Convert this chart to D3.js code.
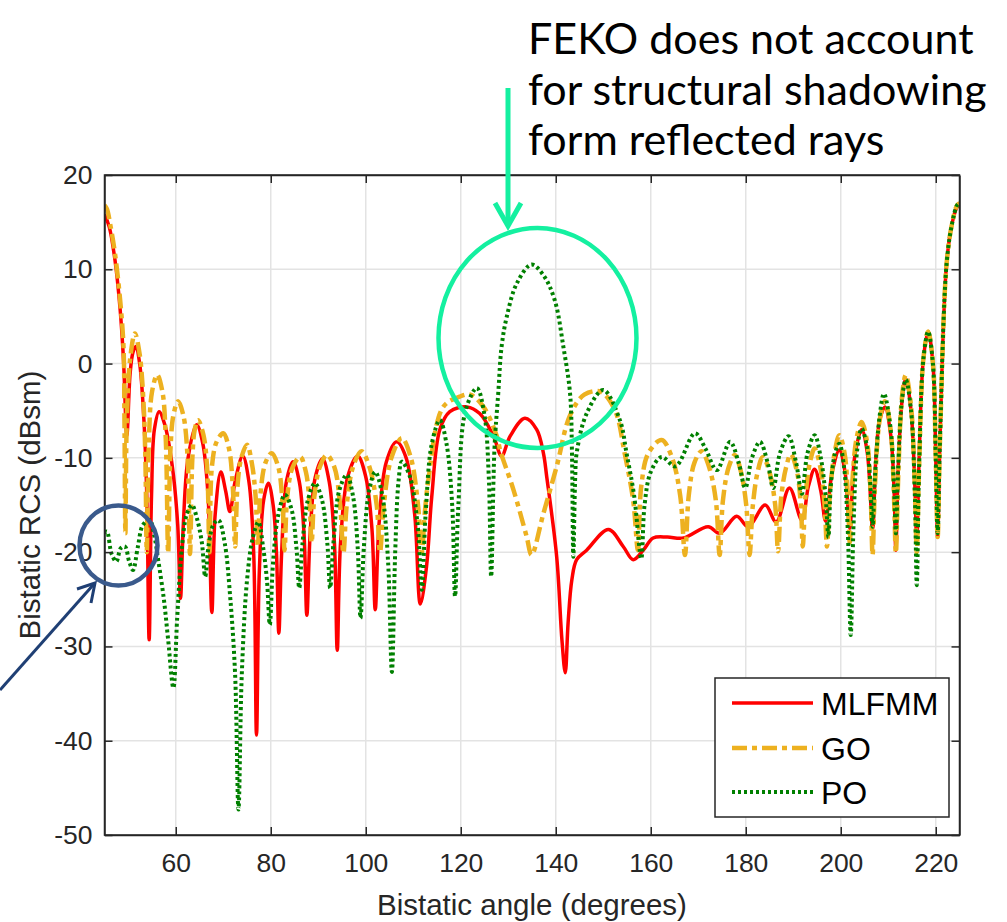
<!DOCTYPE html>
<html><head><meta charset="utf-8">
<script src="https://cdn.jsdelivr.net/npm/d3@7"></script>
<style>html,body{margin:0;padding:0;background:#fff;}svg{display:block;}</style>
</head><body>
<svg id="c" width="1007" height="922"></svg>
<script>
// ---------- data ----------
const seriesNames = ["MLFMM", "GO", "PO"];
const xTicks = [60, 80, 100, 120, 140, 160, 180, 200, 220];
const yTicks = [-50, -40, -30, -20, -10, 0, 10, 20];
const xLabel = "Bistatic angle (degrees)";
const yLabel = "Bistatic RCS (dBsm)";
const noteLines = ["FEKO does not account", "for structural shadowing", "form reflected rays"];

const mlfmm = [
[45.0,15.8],[46.0,14.5],[47.2,11.0],[48.3,5.7],[49.0,0.4],[49.7,-7.6],[50.4,-1.0],[51.0,1.2],[51.6,1.8],[52.4,0.0],[53.3,-6.0],[53.9,-14],[54.4,-29.3],[54.9,-14],[55.5,-7.0],[56.5,-5.1],[57.7,-6.5],[59.3,-11],[60.4,-17],[61.0,-24.9],[61.6,-17],[62.6,-10],[64.4,-6.5],[65.7,-8.5],[66.8,-14],[67.6,-26.4],[68.3,-16],[69.5,-11.5],[70.5,-13.5],[71.4,-15.7],[72.5,-12.5],[74.1,-9.8],[75.4,-12.5],[76.4,-20],[77.0,-39.4],[77.6,-22],[78.5,-14.5],[79.5,-12.7],[80.5,-15],[81.2,-20],[81.7,-28.6],[82.3,-20],[83.3,-12.5],[84.7,-10.4],[86.0,-12.5],[87.0,-18],[87.6,-26.7],[88.3,-18],[89.4,-12],[90.9,-10.1],[92.3,-12.5],[93.4,-19],[94.0,-30.4],[94.7,-19],[96.2,-12],[98.3,-9.8],[100.0,-12],[101.3,-17.5],[102.0,-26.1],[102.8,-17],[104.3,-10.5],[106.5,-8.3],[108.5,-10],[110.3,-16],[111.5,-25.5],[112.8,-21.5],[113.9,-14.1],[115.6,-7.0],[117.7,-5.1],[121.3,-4.6],[124.0,-5.3],[126.9,-7.7],[128.6,-9.8],[130.4,-7.7],[133.5,-5.8],[136.0,-7.0],[137.4,-9.5],[138.1,-12.0],[140.2,-20.5],[141.3,-29.3],[142.0,-32.8],[142.6,-27.5],[143.4,-22.9],[144.4,-20.8],[146.5,-19.8],[151.1,-17.6],[154.2,-19.4],[156.3,-20.8],[158.4,-19.8],[160.5,-18.5],[163.5,-18.4],[166.9,-18.5],[172.1,-17.3],[174.5,-18.0],[178.1,-16.2],[180.5,-17.3],[184.1,-15.0],[186.4,-16.8],[189.2,-13.2],[191.8,-16.6],[193.2,-13],[194.5,-11.2],[195.8,-13.5],[196.8,-16.7],[198.2,-11.5],[199.7,-9.2],[200.9,-11.5],[201.9,-17.5],[202.9,-10],[204.4,-7.0],[205.6,-9.5],[206.7,-17.5],[207.4,-10],[208.2,-6],[209.3,-4.6],[210.5,-7.5],[211.2,-13],[211.6,-19.8],[212.1,-11],[212.9,-4],[213.7,-1.6],[214.8,-5],[215.6,-13],[216.0,-19.0],[216.5,-10],[217.4,0.5],[218.4,3.4],[219.4,0],[220.0,-10],[220.4,-18.4],[220.9,-8],[222.3,10.7],[223.5,15],[224.5,16.6],[225.0,16.8]
];

const go = [
[45.0,16.8],[45.5,16.4],[46.3,14.5],[47.2,11.7],[48.3,6.7],[49.0,1.8],[49.2,-6],[49.4,-18.0],[49.7,-6],[50.4,0.5],[51.4,3.2],[52.4,1.0],[53.2,-4],[53.6,-10],[53.9,-20.0],[54.3,-9],[55.0,-3],[56.1,-1.2],[57.2,-3],[57.9,-8],[58.4,-20.1],[58.9,-9],[59.5,-5.5],[60.5,-4.0],[61.6,-5.5],[62.5,-10],[63.0,-20.2],[63.5,-10],[64.0,-7],[64.7,-6.0],[65.8,-7.5],[66.6,-11],[67.1,-20.0],[67.6,-11],[68.6,-8.3],[70.0,-7.4],[71.2,-9],[72.0,-13],[72.5,-19.4],[73.0,-13],[73.8,-10],[75.0,-8.6],[76.0,-10.5],[76.8,-14],[77.3,-19.4],[77.8,-14],[78.9,-10.5],[80.2,-9.5],[81.6,-11],[82.5,-15],[82.9,-19.8],[83.5,-14],[84.6,-11],[86.2,-9.9],[87.4,-11.5],[88.2,-15],[88.6,-19.0],[89.2,-14],[90.3,-11],[91.8,-9.7],[93.4,-11],[94.6,-15],[95.3,-20.1],[96.0,-15],[97.3,-11],[99.1,-9.3],[100.8,-11],[102.3,-15],[103.0,-20.0],[103.8,-15],[105.4,-10],[107.6,-7.9],[109.5,-10],[111.0,-15],[111.8,-20.0],[112.4,-16],[113.2,-12.3],[116.3,-4.6],[119.8,-3.5],[122.0,-3.3],[124.8,-4.6],[127.6,-7.7],[128.3,-9.2],[131.1,-13.4],[133.9,-18.4],[134.9,-20.3],[137.4,-15.9],[140.2,-10.9],[143.0,-5.5],[146.0,-3.3],[149.5,-3.0],[152.5,-5.0],[154.5,-9.5],[156.3,-14.5],[157.3,-19.8],[158.0,-13],[159.5,-9.5],[162.3,-8.1],[164.5,-10],[166.2,-14],[167.2,-20.3],[168.0,-14],[169.2,-10.5],[170.7,-9.3],[172.3,-11],[173.7,-14.5],[174.5,-20.3],[175.2,-14.5],[176.4,-11],[177.7,-9.7],[179.0,-11.5],[180.1,-15],[180.8,-20.3],[181.5,-15],[182.5,-11.5],[183.6,-9.9],[185.0,-11.5],[186.2,-15],[186.8,-19.9],[187.5,-14],[188.5,-11],[189.5,-9.6],[190.8,-11.5],[191.6,-15],[192.0,-19.4],[192.6,-14],[193.5,-10.5],[194.5,-9.0],[195.7,-11],[196.6,-15],[197.1,-19.4],[197.7,-14],[198.7,-9.5],[199.7,-7.6],[200.8,-9.5],[201.5,-14],[201.9,-19.0],[202.4,-13],[203.3,-8],[204.4,-6.2],[205.6,-8.5],[206.3,-14],[206.7,-20.3],[207.2,-13],[208.2,-6],[209.3,-4.0],[210.5,-7],[211.2,-14],[211.6,-20.1],[212.1,-12],[212.9,-3.5],[213.7,-1.2],[214.8,-4.5],[215.6,-13],[216.0,-20.0],[216.5,-11],[217.4,0.5],[218.4,3.4],[219.4,0],[220.0,-10],[220.4,-18.4],[220.9,-8],[222.3,10.7],[223.5,15],[224.5,16.8],[225.0,17]
];

const po = [
[45.0,-18.0],[45.5,-17.8],[46.5,-20.2],[47.5,-21.0],[48.4,-19.6],[49.3,-19.4],[50.2,-21.0],[51.0,-21.9],[52.0,-19.5],[53.1,-17.1],[54.5,-16.6],[55.5,-18.3],[56.3,-20.8],[57.5,-25],[58.4,-29.3],[59.5,-34.4],[60.3,-27],[61.3,-19.5],[62.3,-16],[63.4,-15.0],[64.5,-16.5],[65.5,-19],[66.2,-22.6],[67.0,-19],[68.0,-17],[69.0,-16.6],[70.3,-19],[71.5,-25],[72.5,-33],[73.2,-47.3],[73.9,-33],[75.0,-23],[76.2,-18.5],[77.4,-16.8],[78.4,-19.5],[79.2,-23],[79.8,-27.7],[80.5,-21],[81.6,-16],[83.0,-13.9],[84.4,-15.5],[85.4,-19.5],[86.0,-23.8],[86.7,-19],[87.8,-14.5],[89.3,-12.7],[90.8,-14.5],[91.9,-19],[92.5,-23.8],[93.2,-19],[94.4,-13.5],[96.0,-11.8],[97.3,-14],[98.3,-19.5],[98.9,-27.0],[99.6,-19.5],[100.7,-13.5],[102.0,-11.5],[103.5,-14],[104.7,-21],[105.5,-32.7],[106.2,-20],[106.9,-12.5],[107.6,-10.4],[109.3,-12],[110.9,-17],[111.8,-24.0],[112.6,-16],[113.9,-8.5],[115.6,-6.0],[117.0,-8.5],[118.2,-15],[118.8,-24.7],[119.5,-15],[121.0,-5],[123.4,-2.6],[125.0,-5.5],[125.9,-12],[126.4,-22.6],[127.1,-9],[127.9,-3.1],[128.6,1.8],[129.7,5.0],[131.8,8.5],[134.9,10.5],[137.5,9.3],[139.8,6.7],[141.6,1.8],[143.0,-3.1],[143.4,-9],[143.7,-20.5],[144.1,-12],[144.4,-9.5],[146.5,-5.3],[150.0,-2.8],[153.5,-6.0],[154.9,-9.5],[156.5,-14],[158.0,-20.7],[158.7,-15],[160.0,-11.5],[162.3,-9.9],[165.2,-10.9],[169.3,-7.4],[171.5,-9],[173.9,-11.3],[176.7,-8.3],[178.5,-10.5],[179.9,-13.2],[181.3,-10],[183.0,-8.3],[184.6,-10.5],[185.8,-13.2],[187.2,-9.5],[189.0,-7.7],[190.6,-10.5],[191.8,-13.8],[193.0,-9.5],[194.5,-7.6],[195.8,-10],[196.8,-14],[197.4,-18.4],[197.9,-13],[198.8,-9.5],[199.7,-8.5],[200.7,-11],[201.5,-18],[202.1,-28.8],[202.7,-17],[203.5,-9],[204.4,-6.9],[205.6,-9],[206.3,-13.5],[206.7,-17.3],[207.2,-12],[208.2,-5.5],[209.1,-3.2],[210.4,-6.5],[211.2,-13],[211.6,-18.0],[212.1,-11],[212.9,-3.8],[213.7,-1.7],[214.8,-5],[215.6,-14],[216.0,-23.5],[216.5,-11],[217.4,0.5],[218.4,3.4],[219.4,0],[220.0,-10],[220.4,-18.0],[220.9,-8],[222.3,10.7],[223.5,15],[224.5,16.8],[225.0,17]
];

// ---------- layout ----------
const svg = d3.select("#c");
const L = 104.5, R = 959.5, T = 175, B = 835;
const x = d3.scaleLinear().domain([45, 225]).range([L, R]);
const y = d3.scaleLinear().domain([-50, 20]).range([B, T]);
const axisCol = "#262626";
const font = "'Liberation Sans', Arial, Helvetica, sans-serif";

// grid
const g = svg.append("g");
g.selectAll("line.gx").data(xTicks).enter().append("line")
  .attr("x1", d => x(d)).attr("x2", d => x(d)).attr("y1", T).attr("y2", B)
  .attr("stroke", "#e3e3e3").attr("stroke-width", 1.5);
g.selectAll("line.gy").data(yTicks).enter().append("line")
  .attr("y1", d => y(d)).attr("y2", d => y(d)).attr("x1", L).attr("x2", R)
  .attr("stroke", "#e3e3e3").attr("stroke-width", 1.5);

// series
svg.append("clipPath").attr("id", "clip").append("rect")
  .attr("x", L).attr("y", T).attr("width", R - L).attr("height", B - T);
const line = d3.line().x(d => x(d[0])).y(d => y(d[1])).curve(d3.curveCatmullRom.alpha(0.5));
const styles = [
  {data: mlfmm, color: "#FF0000", w: 3.5, dash: null},
  {data: go, color: "#EDB120", w: 4.5, dash: "15,5,5,5"},
  {data: po, color: "#008000", w: 4, dash: "3,3"}
];
const pg = svg.append("g").attr("clip-path", "url(#clip)");
styles.forEach(s => {
  pg.append("path").datum(s.data).attr("d", line).attr("fill", "none")
    .attr("stroke", s.color).attr("stroke-width", s.w)
    .attr("stroke-dasharray", s.dash).attr("stroke-linejoin", "round");
});

// axes (box with inward ticks)
const xb = svg.append("g").attr("transform", `translate(0,${B})`)
  .call(d3.axisBottom(x).tickValues(xTicks).tickSizeInner(-8).tickSizeOuter(0).tickPadding(18));
const xt = svg.append("g").attr("transform", `translate(0,${T})`)
  .call(d3.axisTop(x).tickValues(xTicks).tickSizeInner(-8).tickSizeOuter(0).tickFormat(""));
const yl = svg.append("g").attr("transform", `translate(${L},0)`)
  .call(d3.axisLeft(y).tickValues(yTicks).tickSizeInner(-8).tickSizeOuter(0).tickPadding(12)
  .tickFormat(d => d < 0 ? "-" + Math.abs(d) : d));
const yr = svg.append("g").attr("transform", `translate(${R},0)`)
  .call(d3.axisRight(y).tickValues(yTicks).tickSizeInner(-8).tickSizeOuter(0).tickFormat(""));
[xb, xt, yl, yr].forEach(a => {
  a.selectAll("path.domain").attr("stroke", axisCol).attr("stroke-width", 1.5);
  a.selectAll(".tick line").attr("stroke", axisCol).attr("stroke-width", 1.5);
  a.selectAll(".tick text").attr("fill", axisCol).attr("font-family", font).attr("font-size", 26.5);
});
svg.append("rect").attr("x", L).attr("y", T).attr("width", R - L).attr("height", B - T)
  .attr("fill", "none").attr("stroke", axisCol).attr("stroke-width", 1.5);

// axis labels
svg.append("text").attr("x", (L + R) / 2).attr("y", 915).attr("text-anchor", "middle")
  .attr("font-family", font).attr("font-size", 29.5).attr("fill", axisCol).text(xLabel);
svg.append("text").attr("transform", `translate(40,${(T + B) / 2}) rotate(-90)`).attr("text-anchor", "middle")
  .attr("font-family", font).attr("font-size", 29.5).attr("fill", axisCol).text(yLabel);

// legend
const lg = svg.append("g");
lg.append("rect").attr("x", 715).attr("y", 678).attr("width", 234).attr("height", 139)
  .attr("fill", "#fff").attr("stroke", axisCol).attr("stroke-width", 1.5);
const rowsY = [703, 748, 792];
styles.forEach((s, i) => {
  lg.append("line").attr("x1", 732).attr("x2", 813).attr("y1", rowsY[i]).attr("y2", rowsY[i])
    .attr("stroke", s.color).attr("stroke-width", s.w).attr("stroke-dasharray", s.dash);
  lg.append("text").attr("x", 821).attr("y", rowsY[i]).attr("dy", "0.36em")
    .attr("font-family", font).attr("font-size", 32).attr("fill", "#000").text(seriesNames[i]);
});

// annotations
const mint = "#14F0A0";
const ann = svg.append("g");
ann.append("ellipse").attr("cx", 537.5).attr("cy", 338).attr("rx", 99).attr("ry", 110)
  .attr("fill", "none").attr("stroke", mint).attr("stroke-width", 4.5);
ann.append("line").attr("x1", 508).attr("x2", 508).attr("y1", 88).attr("y2", 224)
  .attr("stroke", mint).attr("stroke-width", 5);
ann.append("path").attr("d", "M495,203 L508,226 L521,203").attr("fill", "none")
  .attr("stroke", mint).attr("stroke-width", 5).attr("stroke-linejoin", "miter");
ann.append("ellipse").attr("cx", 118.5).attr("cy", 545.5).attr("rx", 39).attr("ry", 40)
  .attr("fill", "none").attr("stroke", "#3A5A8C").attr("stroke-width", 4.5);
ann.append("line").attr("x1", 0).attr("y1", 690).attr("x2", 94).attr("y2", 584)
  .attr("stroke", "#1F3F74").attr("stroke-width", 3);
ann.append("path").attr("d", "M77,589 L95,583 L91,603").attr("fill", "none")
  .attr("stroke", "#1F3F74").attr("stroke-width", 3);
const noteY = [54, 105, 155];
noteLines.forEach((t, i) => {
  ann.append("text").attr("x", 528).attr("y", noteY[i])
    .attr("font-family", "Lato, 'Open Sans', sans-serif").attr("font-size", 43).attr("fill", "#000").text(t);
});
</script>
</body></html>
